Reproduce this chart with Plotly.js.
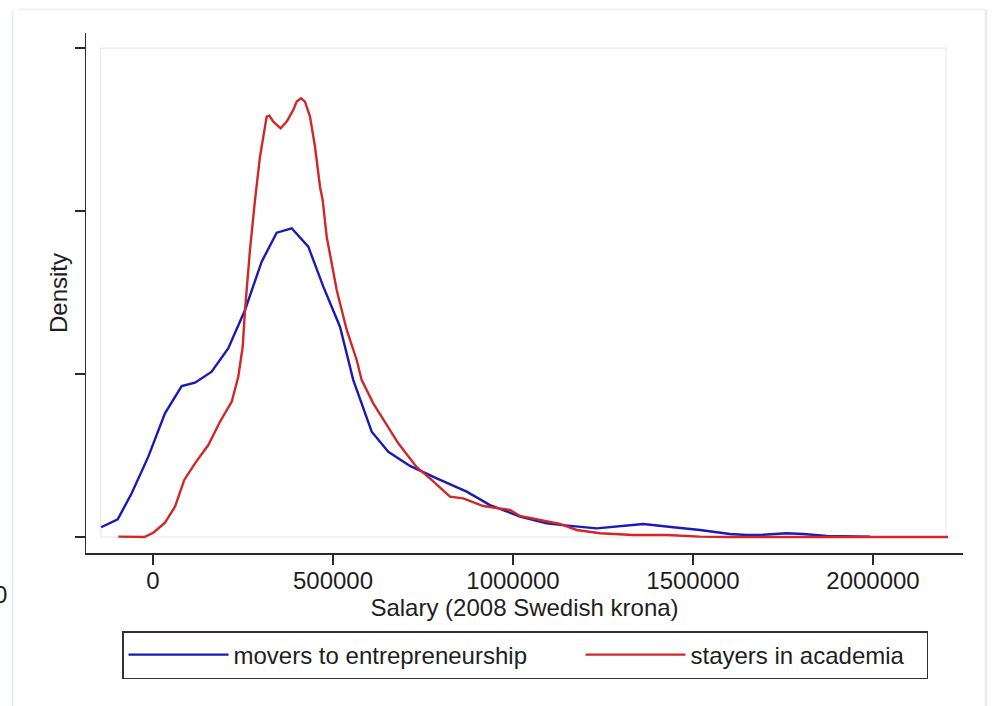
<!DOCTYPE html>
<html>
<head>
<meta charset="utf-8">
<script src="https://cdn.plot.ly/plotly-3.0.1.min.js"></script>
<style>
  html, body { margin: 0; padding: 0; background: #ffffff; }
  #chart { width: 994px; height: 706px; }
</style>
</head>
<body>
<div id="chart"></div>
<script>
// Salary values (2008 Swedish krona) and kernel density (in units of 1e-6)
const moversSalary = [-144000, -98000, -59200, -13000, 33300, 79700, 116700, 163000, 209200, 255600,
  301900, 343600, 385300, 431400, 473100, 519400, 556400, 607500, 653600, 713900,
  788100, 871400, 936100, 1019400, 1093600, 1130600, 1232500, 1297200, 1362000, 1445300,
  1519400, 1602800, 1649200, 1694400, 1760300, 1806400, 1871400, 1991700];
const moversDensity = [0.060, 0.109, 0.268, 0.493, 0.759, 0.926, 0.947, 1.014, 1.158, 1.393,
  1.689, 1.867, 1.894, 1.781, 1.536, 1.290, 0.963, 0.646, 0.523, 0.436,
  0.360, 0.278, 0.196, 0.125, 0.084, 0.074, 0.053, 0.067, 0.080, 0.060,
  0.043, 0.018, 0.012, 0.014, 0.023, 0.018, 0.006, 0.002];

const stayersSalary = [-96400, -68600, -24200, 800, 33300, 61100, 86900, 116700, 153600, 186100,
  218600, 236900, 249200, 255600, 269400, 283300, 297200, 315800, 323100, 334200,
  354700, 371400, 389700, 399200, 411100, 422200, 436100, 450000, 463900, 471400,
  482500, 510300, 538100, 565800, 579700, 611900, 644400, 681400, 732500, 769400,
  825000, 861900, 917500, 963900, 991700, 1019400, 1102800, 1130600, 1176900, 1241700,
  1334200, 1426900, 1519400, 1602800, 1880600, 2208300];
const stayersDensity = [0.002, 0.000, 0.000, 0.026, 0.088, 0.186, 0.350, 0.452, 0.564, 0.707,
  0.830, 0.983, 1.167, 1.393, 1.761, 2.067, 2.333, 2.579, 2.585, 2.548,
  2.507, 2.548, 2.620, 2.671, 2.691, 2.671, 2.579, 2.394, 2.149, 2.067,
  1.842, 1.515, 1.270, 1.086, 0.963, 0.820, 0.707, 0.575, 0.428, 0.360,
  0.247, 0.237, 0.190, 0.176, 0.166, 0.129, 0.094, 0.080, 0.043, 0.023,
  0.012, 0.012, 0.002, 0.000, 0.000, 0.000];

const xTickVals = [0, 500000, 1000000, 1500000, 2000000];
const xTickText = ["0", "500000", "1000000", "1500000", "2000000"];
const yTickVals = [0, 1, 2, 3];

const seriesNames = ["movers to entrepreneurship", "stayers in academia"];

const FONT = "'Liberation Sans', Arial, Helvetica, sans-serif";
const TXT = "#1e1e1e";

const traces = [
  {
    x: moversSalary, y: moversDensity, name: seriesNames[0],
    type: "scatter", mode: "lines",
    line: { color: "#1a1ab4", width: 2.4 },
    legendwidth: 342,
    hoverinfo: "skip"
  },
  {
    x: stayersSalary, y: stayersDensity, name: seriesNames[1],
    type: "scatter", mode: "lines",
    line: { color: "#d02828", width: 2.4 },
    legendwidth: 231,
    hoverinfo: "skip"
  }
];

const layout = {
  width: 994, height: 706,
  paper_bgcolor: "#ffffff", plot_bgcolor: "#ffffff",
  font: { family: FONT, size: 24, color: TXT },
  margin: { l: 86, r: 31, t: 33, b: 153, autoexpand: false },
  showlegend: true,
  legend: {
    orientation: "h",
    x: (122 - 86) / 877, xanchor: "left",
    y: (553 - 631) / 520, yanchor: "top",
    bordercolor: "#333333", borderwidth: 1.5,
    bgcolor: "#ffffff",
    font: { family: FONT, size: 24, color: TXT },
    itemwidth: 100,
    traceorder: "normal"
  },
  xaxis: {
    range: [-186111, 2250000],
    showgrid: false, zeroline: false,
    showline: true, linecolor: "#2a2a2a", linewidth: 1.5,
    ticks: "outside", ticklen: 10, tickwidth: 1.5, tickcolor: "#2a2a2a",
    tickvals: xTickVals, ticktext: xTickText,
    ticklabelstandoff: -4,
    tickfont: { family: FONT, size: 24, color: TXT },
    title: { text: "Salary (2008 Swedish krona)", standoff: 0,
             font: { family: FONT, size: 24, color: TXT } }
  },
  yaxis: {
    range: [-0.0982, 3.092],
    showgrid: false, zeroline: false,
    showline: true, linecolor: "#2a2a2a", linewidth: 1.5,
    ticks: "outside", ticklen: 10, tickwidth: 1.5, tickcolor: "#2a2a2a",
    tickvals: yTickVals, showticklabels: false,
    title: { text: "Density", standoff: 0,
             font: { family: FONT, size: 24, color: TXT } }
  },
  shapes: [
    // Stata plot region border (faint)
    { type: "rect", xref: "paper", yref: "paper",
      x0: (100.7 - 86) / 877, x1: (946 - 86) / 877,
      y0: (553 - 537) / 520, y1: (553 - 48.3) / 520,
      line: { color: "#eceef0", width: 1.5 }, layer: "below" },
    // faint outer frame edges
    { type: "line", xref: "paper", yref: "paper",
      x0: (12.7 - 86) / 877, x1: (12.7 - 86) / 877,
      y0: (553 - 706) / 520, y1: (553 - 9.5) / 520,
      line: { color: "#e4ecf4", width: 1.5 } },
    { type: "line", xref: "paper", yref: "paper",
      x0: (18 - 86) / 877, x1: (986 - 86) / 877,
      y0: (553 - 9.5) / 520, y1: (553 - 9.5) / 520,
      line: { color: "#eef0f3", width: 2 } },
    { type: "line", xref: "paper", yref: "paper",
      x0: (986 - 86) / 877, x1: (986 - 86) / 877,
      y0: (553 - 706) / 520, y1: (553 - 9.5) / 520,
      line: { color: "#e8ecf0", width: 2.5 } }
  ],
  annotations: [
    { text: "0", xref: "paper", yref: "paper",
      x: (9 - 86) / 877, y: (553 - 594) / 520,
      xanchor: "right", yanchor: "middle", showarrow: false,
      font: { family: FONT, size: 24, color: TXT } }
  ]
};

Plotly.newPlot("chart", traces, layout, { staticPlot: true, displayModeBar: false });
</script>
</body>
</html>
